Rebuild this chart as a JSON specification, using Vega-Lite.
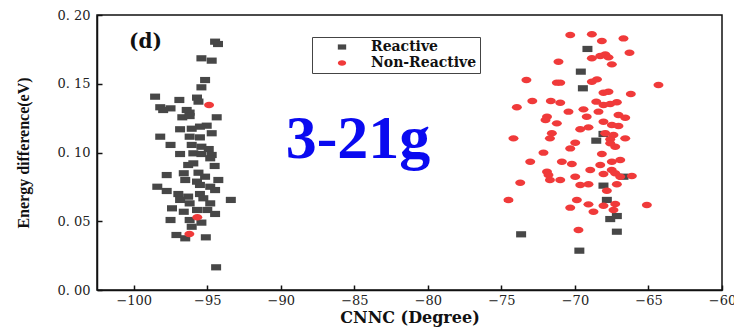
{
  "$schema": "https://vega.github.io/schema/vega-lite/v6.json",
  "width": 625,
  "height": 275,
  "autosize": {"type": "none"},
  "padding": {"left": 97, "top": 15, "right": 12, "bottom": 40},
  "background": "white",
  "config": {
    "view": {"stroke": "#111", "strokeWidth": 1.5},
    "font": "DejaVu Serif"
  },
  "data": {
    "values": [
      {"x": -94.47, "y": 0.1806, "type": "Reactive"},
      {"x": -94.27, "y": 0.1789, "type": "Reactive"},
      {"x": -95.4, "y": 0.1685, "type": "Reactive"},
      {"x": -94.7, "y": 0.1668, "type": "Reactive"},
      {"x": -95.15, "y": 0.1527, "type": "Reactive"},
      {"x": -95.4, "y": 0.1474, "type": "Reactive"},
      {"x": -98.55, "y": 0.1406, "type": "Reactive"},
      {"x": -96.9, "y": 0.1382, "type": "Reactive"},
      {"x": -95.7, "y": 0.1399, "type": "Reactive"},
      {"x": -95.6, "y": 0.137, "type": "Reactive"},
      {"x": -98.2, "y": 0.1329, "type": "Reactive"},
      {"x": -97.5, "y": 0.1321, "type": "Reactive"},
      {"x": -98.0, "y": 0.1309, "type": "Reactive"},
      {"x": -96.4, "y": 0.1309, "type": "Reactive"},
      {"x": -96.2, "y": 0.129, "type": "Reactive"},
      {"x": -96.7, "y": 0.1256, "type": "Reactive"},
      {"x": -96.2, "y": 0.1265, "type": "Reactive"},
      {"x": -94.36, "y": 0.1256, "type": "Reactive"},
      {"x": -96.85, "y": 0.1169, "type": "Reactive"},
      {"x": -96.06, "y": 0.1173, "type": "Reactive"},
      {"x": -95.5, "y": 0.1188, "type": "Reactive"},
      {"x": -95.04, "y": 0.1195, "type": "Reactive"},
      {"x": -98.2, "y": 0.1115, "type": "Reactive"},
      {"x": -96.2, "y": 0.1115, "type": "Reactive"},
      {"x": -95.5, "y": 0.111, "type": "Reactive"},
      {"x": -94.7, "y": 0.114, "type": "Reactive"},
      {"x": -97.5, "y": 0.1055, "type": "Reactive"},
      {"x": -96.06, "y": 0.1055, "type": "Reactive"},
      {"x": -95.4, "y": 0.1042, "type": "Reactive"},
      {"x": -94.9, "y": 0.1025, "type": "Reactive"},
      {"x": -94.7, "y": 0.0982, "type": "Reactive"},
      {"x": -94.8, "y": 0.0958, "type": "Reactive"},
      {"x": -96.85, "y": 0.0989, "type": "Reactive"},
      {"x": -95.95, "y": 0.0994, "type": "Reactive"},
      {"x": -95.4, "y": 0.0989, "type": "Reactive"},
      {"x": -96.3, "y": 0.0909, "type": "Reactive"},
      {"x": -95.95, "y": 0.0921, "type": "Reactive"},
      {"x": -94.5, "y": 0.0902, "type": "Reactive"},
      {"x": -97.76, "y": 0.0836, "type": "Reactive"},
      {"x": -96.6, "y": 0.0849, "type": "Reactive"},
      {"x": -95.6, "y": 0.0853, "type": "Reactive"},
      {"x": -95.15, "y": 0.0824, "type": "Reactive"},
      {"x": -96.5, "y": 0.08, "type": "Reactive"},
      {"x": -95.7, "y": 0.0788, "type": "Reactive"},
      {"x": -94.25, "y": 0.08, "type": "Reactive"},
      {"x": -98.4, "y": 0.0751, "type": "Reactive"},
      {"x": -97.76, "y": 0.072, "type": "Reactive"},
      {"x": -95.5, "y": 0.0764, "type": "Reactive"},
      {"x": -94.8, "y": 0.0751, "type": "Reactive"},
      {"x": -94.47, "y": 0.0727, "type": "Reactive"},
      {"x": -96.97, "y": 0.0698, "type": "Reactive"},
      {"x": -96.3, "y": 0.0679, "type": "Reactive"},
      {"x": -95.5, "y": 0.0698, "type": "Reactive"},
      {"x": -95.27, "y": 0.0667, "type": "Reactive"},
      {"x": -93.4, "y": 0.0655, "type": "Reactive"},
      {"x": -96.85, "y": 0.0655, "type": "Reactive"},
      {"x": -96.2, "y": 0.063, "type": "Reactive"},
      {"x": -94.8, "y": 0.063, "type": "Reactive"},
      {"x": -97.4, "y": 0.0594, "type": "Reactive"},
      {"x": -96.6, "y": 0.0569, "type": "Reactive"},
      {"x": -95.7, "y": 0.0582, "type": "Reactive"},
      {"x": -95.0, "y": 0.0582, "type": "Reactive"},
      {"x": -94.47, "y": 0.0553, "type": "Reactive"},
      {"x": -97.5, "y": 0.0509, "type": "Reactive"},
      {"x": -96.2, "y": 0.0509, "type": "Reactive"},
      {"x": -95.4, "y": 0.049, "type": "Reactive"},
      {"x": -96.06, "y": 0.046, "type": "Reactive"},
      {"x": -97.1, "y": 0.04, "type": "Reactive"},
      {"x": -96.5, "y": 0.0376, "type": "Reactive"},
      {"x": -95.1, "y": 0.0383, "type": "Reactive"},
      {"x": -94.4, "y": 0.0165, "type": "Reactive"},
      {"x": -69.15, "y": 0.1753, "type": "Reactive"},
      {"x": -69.6, "y": 0.1588, "type": "Reactive"},
      {"x": -69.46, "y": 0.1467, "type": "Reactive"},
      {"x": -68.06, "y": 0.1135, "type": "Reactive"},
      {"x": -68.55, "y": 0.1086, "type": "Reactive"},
      {"x": -66.7, "y": 0.0824, "type": "Reactive"},
      {"x": -68.06, "y": 0.0759, "type": "Reactive"},
      {"x": -67.83, "y": 0.0655, "type": "Reactive"},
      {"x": -67.6, "y": 0.0516, "type": "Reactive"},
      {"x": -67.15, "y": 0.0538, "type": "Reactive"},
      {"x": -67.15, "y": 0.0424, "type": "Reactive"},
      {"x": -73.66, "y": 0.0405, "type": "Reactive"},
      {"x": -69.7, "y": 0.0286, "type": "Reactive"},
      {"x": -94.88, "y": 0.1345, "type": "Non-Reactive"},
      {"x": -95.68, "y": 0.0529, "type": "Non-Reactive"},
      {"x": -96.22, "y": 0.0407, "type": "Non-Reactive"},
      {"x": -70.32, "y": 0.1855, "type": "Non-Reactive"},
      {"x": -68.85, "y": 0.186, "type": "Non-Reactive"},
      {"x": -68.17, "y": 0.1811, "type": "Non-Reactive"},
      {"x": -66.7, "y": 0.183, "type": "Non-Reactive"},
      {"x": -66.29, "y": 0.1726, "type": "Non-Reactive"},
      {"x": -68.85, "y": 0.1685, "type": "Non-Reactive"},
      {"x": -68.28, "y": 0.1702, "type": "Non-Reactive"},
      {"x": -67.94, "y": 0.1714, "type": "Non-Reactive"},
      {"x": -67.72, "y": 0.1692, "type": "Non-Reactive"},
      {"x": -67.49, "y": 0.1641, "type": "Non-Reactive"},
      {"x": -71.12, "y": 0.166, "type": "Non-Reactive"},
      {"x": -73.3, "y": 0.1527, "type": "Non-Reactive"},
      {"x": -71.23, "y": 0.1508, "type": "Non-Reactive"},
      {"x": -71.0, "y": 0.1508, "type": "Non-Reactive"},
      {"x": -68.85, "y": 0.1515, "type": "Non-Reactive"},
      {"x": -68.5, "y": 0.1532, "type": "Non-Reactive"},
      {"x": -64.32, "y": 0.1491, "type": "Non-Reactive"},
      {"x": -68.06, "y": 0.1435, "type": "Non-Reactive"},
      {"x": -67.72, "y": 0.1442, "type": "Non-Reactive"},
      {"x": -66.2, "y": 0.1425, "type": "Non-Reactive"},
      {"x": -72.9, "y": 0.1375, "type": "Non-Reactive"},
      {"x": -71.64, "y": 0.1375, "type": "Non-Reactive"},
      {"x": -71.0, "y": 0.1362, "type": "Non-Reactive"},
      {"x": -68.55, "y": 0.137, "type": "Non-Reactive"},
      {"x": -68.06, "y": 0.1345, "type": "Non-Reactive"},
      {"x": -67.6, "y": 0.1353, "type": "Non-Reactive"},
      {"x": -67.15, "y": 0.1365, "type": "Non-Reactive"},
      {"x": -73.95, "y": 0.1329, "type": "Non-Reactive"},
      {"x": -70.44, "y": 0.1297, "type": "Non-Reactive"},
      {"x": -69.42, "y": 0.1314, "type": "Non-Reactive"},
      {"x": -68.4, "y": 0.1297, "type": "Non-Reactive"},
      {"x": -71.9, "y": 0.126, "type": "Non-Reactive"},
      {"x": -69.2, "y": 0.126, "type": "Non-Reactive"},
      {"x": -67.04, "y": 0.1273, "type": "Non-Reactive"},
      {"x": -66.58, "y": 0.1253, "type": "Non-Reactive"},
      {"x": -72.0, "y": 0.1236, "type": "Non-Reactive"},
      {"x": -71.23, "y": 0.1212, "type": "Non-Reactive"},
      {"x": -68.06, "y": 0.1224, "type": "Non-Reactive"},
      {"x": -67.49, "y": 0.12, "type": "Non-Reactive"},
      {"x": -67.04, "y": 0.1193, "type": "Non-Reactive"},
      {"x": -69.64, "y": 0.1169, "type": "Non-Reactive"},
      {"x": -69.08, "y": 0.1183, "type": "Non-Reactive"},
      {"x": -71.57, "y": 0.114, "type": "Non-Reactive"},
      {"x": -71.7, "y": 0.1103, "type": "Non-Reactive"},
      {"x": -67.94, "y": 0.114, "type": "Non-Reactive"},
      {"x": -67.38, "y": 0.1127, "type": "Non-Reactive"},
      {"x": -67.6, "y": 0.1096, "type": "Non-Reactive"},
      {"x": -74.18, "y": 0.1103, "type": "Non-Reactive"},
      {"x": -66.58, "y": 0.1103, "type": "Non-Reactive"},
      {"x": -69.98, "y": 0.1071, "type": "Non-Reactive"},
      {"x": -70.32, "y": 0.103, "type": "Non-Reactive"},
      {"x": -67.26, "y": 0.1042, "type": "Non-Reactive"},
      {"x": -67.6, "y": 0.1067, "type": "Non-Reactive"},
      {"x": -72.14, "y": 0.0999, "type": "Non-Reactive"},
      {"x": -68.17, "y": 0.0989, "type": "Non-Reactive"},
      {"x": -73.04, "y": 0.0933, "type": "Non-Reactive"},
      {"x": -70.89, "y": 0.0933, "type": "Non-Reactive"},
      {"x": -70.21, "y": 0.0916, "type": "Non-Reactive"},
      {"x": -68.28, "y": 0.0909, "type": "Non-Reactive"},
      {"x": -67.49, "y": 0.0933, "type": "Non-Reactive"},
      {"x": -66.92, "y": 0.0945, "type": "Non-Reactive"},
      {"x": -68.96, "y": 0.0873, "type": "Non-Reactive"},
      {"x": -67.5, "y": 0.0873, "type": "Non-Reactive"},
      {"x": -71.9, "y": 0.086, "type": "Non-Reactive"},
      {"x": -71.8, "y": 0.0836, "type": "Non-Reactive"},
      {"x": -68.06, "y": 0.0844, "type": "Non-Reactive"},
      {"x": -67.26, "y": 0.0849, "type": "Non-Reactive"},
      {"x": -66.92, "y": 0.0824, "type": "Non-Reactive"},
      {"x": -66.13, "y": 0.0829, "type": "Non-Reactive"},
      {"x": -71.7, "y": 0.08, "type": "Non-Reactive"},
      {"x": -71.0, "y": 0.08, "type": "Non-Reactive"},
      {"x": -69.98, "y": 0.0824, "type": "Non-Reactive"},
      {"x": -73.72, "y": 0.078, "type": "Non-Reactive"},
      {"x": -69.64, "y": 0.0764, "type": "Non-Reactive"},
      {"x": -69.08, "y": 0.0769, "type": "Non-Reactive"},
      {"x": -67.15, "y": 0.0769, "type": "Non-Reactive"},
      {"x": -67.83, "y": 0.0722, "type": "Non-Reactive"},
      {"x": -74.52, "y": 0.0655, "type": "Non-Reactive"},
      {"x": -69.87, "y": 0.0655, "type": "Non-Reactive"},
      {"x": -70.32, "y": 0.0599, "type": "Non-Reactive"},
      {"x": -69.08, "y": 0.0623, "type": "Non-Reactive"},
      {"x": -68.74, "y": 0.0569, "type": "Non-Reactive"},
      {"x": -68.06, "y": 0.0613, "type": "Non-Reactive"},
      {"x": -67.26, "y": 0.0625, "type": "Non-Reactive"},
      {"x": -67.38, "y": 0.0582, "type": "Non-Reactive"},
      {"x": -65.11, "y": 0.0618, "type": "Non-Reactive"},
      {"x": -69.76, "y": 0.0436, "type": "Non-Reactive"}
    ]
  },
  "layer": [
    {
      "mark": {"type": "point", "filled": true, "opacity": 1, "strokeWidth": 0, "size": 100},
      "encoding": {
        "x": {
          "field": "x", "type": "quantitative",
          "scale": {"domain": [-102.5, -60], "nice": false, "zero": false},
          "axis": {
            "title": "CNNC (Degree)",
            "values": [-100, -97.5, -95, -92.5, -90, -87.5, -85, -82.5, -80, -77.5, -75, -72.5, -70, -67.5, -65, -62.5, -60],
            "labelExpr": "datum.value % 5 == 0 ? format(datum.value, '.0f') : ''",
            "tickSize": -5,
            "tickColor": "#111", "tickWidth": 1.5,
            "domainColor": "#111", "domainWidth": 1.5,
            "grid": false,
            "labelFont": "DejaVu Serif", "labelFontSize": 13, "labelColor": "#222",
            "labelOverlap": false, "labelFlush": false, "labelPadding": 9,
            "titleFont": "DejaVu Serif", "titleFontSize": 16, "titleFontWeight": "bold", "titleColor": "#111",
            "titlePadding": 2
          }
        },
        "y": {
          "field": "y", "type": "quantitative",
          "scale": {"domain": [0, 0.2], "nice": false, "zero": false},
          "axis": {
            "title": "Energy difference(eV)",
            "values": [0, 0.025, 0.05, 0.075, 0.1, 0.125, 0.15, 0.175, 0.2],
            "labelExpr": "abs(datum.value * 20 - round(datum.value * 20)) < 0.001 ? replace(format(datum.value, '.2f'), '.', '. ') : ''",
            "tickSize": -5,
            "tickColor": "#111", "tickWidth": 1.5,
            "domainColor": "#111", "domainWidth": 1.5,
            "grid": false,
            "labelFont": "DejaVu Serif", "labelFontSize": 13, "labelColor": "#222",
            "labelOverlap": false, "labelFlush": false, "labelPadding": 12,
            "titleFont": "Liberation Serif", "titleFontSize": 16, "titleFontWeight": "bold", "titleColor": "#111",
            "titlePadding": 25
          }
        },
        "color": {
          "field": "type", "type": "nominal",
          "scale": {"domain": ["Reactive", "Non-Reactive"], "range": ["#474747", "#f03a3a"]},
          "legend": {
            "title": null, "orient": "none", "legendX": 215, "legendY": 22,
            "strokeColor": "#444", "fillColor": "white", "padding": 3,
            "symbolOffset": 20, "labelOffset": 22, "symbolSize": 70,
            "labelFont": "DejaVu Serif", "labelFontWeight": "bold", "labelFontSize": 14, "labelColor": "#111",
            "rowPadding": 2, "symbolStrokeWidth": 0
          }
        },
        "shape": {
          "field": "type", "type": "nominal",
          "scale": {"domain": ["Reactive", "Non-Reactive"], "range": ["M-1,-0.62L1,-0.62L1,0.62L-1,0.62Z", "M-1,0A1,0.64,0,1,1,1,0A1,0.64,0,1,1,-1,0Z"]},
          "legend": {
            "title": null, "orient": "none", "legendX": 215, "legendY": 22,
            "strokeColor": "#444", "fillColor": "white", "padding": 3,
            "symbolOffset": 20, "labelOffset": 22, "symbolSize": 70,
            "labelFont": "DejaVu Serif", "labelFontWeight": "bold", "labelFontSize": 14, "labelColor": "#111",
            "rowPadding": 2, "symbolStrokeWidth": 0
          }
        }
      }
    },
    {
      "data": {"values": [{"label": "(d)"}]},
      "mark": {"type": "text", "font": "DejaVu Serif", "fontWeight": "bold", "fontSize": 20, "color": "#111", "baseline": "alphabetic", "align": "center"},
      "encoding": {"x": {"datum": -99.2}, "y": {"datum": 0.176}, "text": {"field": "label"}}
    },
    {
      "data": {"values": [{"label": "3-21g"}]},
      "mark": {"type": "text", "font": "Liberation Serif", "fontWeight": "bold", "fontSize": 62, "color": "#0a0af0", "baseline": "alphabetic", "align": "center"},
      "encoding": {"x": {"datum": -84.75}, "y": {"datum": 0.096}, "text": {"field": "label"}}
    }
  ]
}
